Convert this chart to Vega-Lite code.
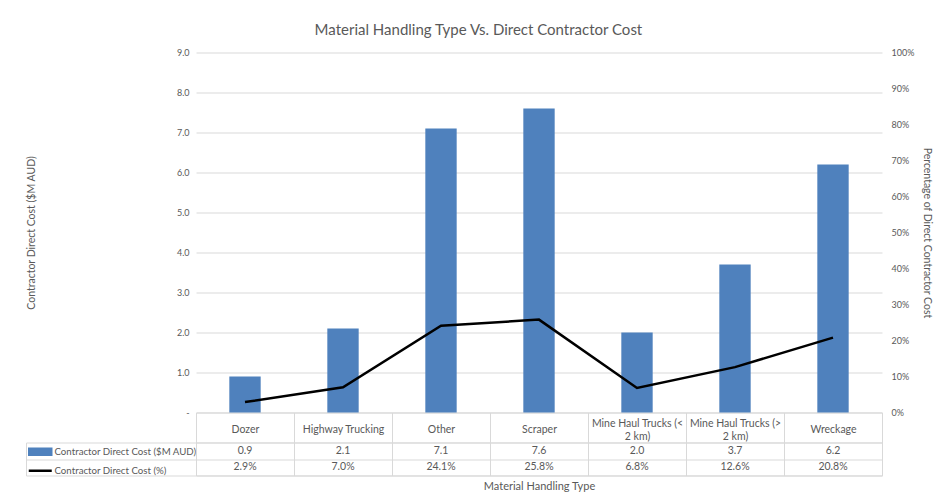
{
  "$schema": "https://vega.github.io/schema/vega-lite/v6.json",
  "background": "white",
  "padding": {"left": 25, "top": 22.5, "right": 5, "bottom": 5},
  "title": {
    "text": "Material Handling Type Vs. Direct Contractor Cost",
    "font": "Lato",
    "fontSize": 15,
    "fontWeight": "normal",
    "color": "#595959",
    "anchor": "middle",
    "offset": 11
  },
  "config": {
    "font": "Lato",
    "axis": {
      "labelFont": "Lato",
      "titleFont": "Lato",
      "labelColor": "#595959",
      "titleColor": "#595959",
      "titleFontWeight": "normal",
      "labelFontSize": 9,
      "titleFontSize": 10.5
    }
  },
  "datasets": {
    "costs": [
      {"type": "Dozer", "cost": 0.9, "pct": 0.029},
      {"type": "Highway Trucking", "cost": 2.1, "pct": 0.070},
      {"type": "Other", "cost": 7.1, "pct": 0.241},
      {"type": "Scraper", "cost": 7.6, "pct": 0.258},
      {"type": "Mine Haul Trucks (< 2 km)", "cost": 2.0, "pct": 0.068},
      {"type": "Mine Haul Trucks (> 2 km)", "cost": 3.7, "pct": 0.126},
      {"type": "Wreckage", "cost": 6.2, "pct": 0.208}
    ]
  },
  "bounds": "flush",
  "spacing": 30,
  "resolve": {"scale": {"color": "independent"}},
  "vconcat": [
    {
      "width": 686,
      "height": 360,
      "data": {"name": "costs"},
      "view": {"stroke": null},
      "encoding": {
        "x": {
          "field": "type",
          "type": "nominal",
          "sort": null,
          "scale": {"type": "band", "paddingInner": 0, "paddingOuter": 0},
          "axis": {
            "orient": "bottom",
            "title": null,
            "domain": true,
            "domainColor": "#d9d9d9",
            "ticks": true,
            "tickBand": "extent",
            "tickSize": 30,
            "tickColor": "#d9d9d9",
            "labelAngle": 0,
            "labelFontSize": 10.5,
            "labelBaseline": "middle",
            "labelPadding": {"condition": {"test": "length(datum.label) > 20", "value": -19.5}, "value": -13},
            "labelLineHeight": 13,
            "labelLimit": 0,
            "labelOverlap": false,
            "labelFlush": false,
            "labelExpr": "length(datum.label) > 20 ? [substring(datum.label, 0, 19), '2 km)'] : datum.label"
          }
        }
      },
      "layer": [
        {
          "mark": {"type": "bar", "width": {"band": 0.32}},
          "encoding": {
            "y": {
              "field": "cost",
              "type": "quantitative",
              "scale": {"domain": [0, 9]},
              "axis": {
                "orient": "left",
                "values": [0, 1, 2, 3, 4, 5, 6, 7, 8, 9],
                "labelExpr": "datum.value == 0 ? '-  ' : format(datum.value, '.1f')",
                "grid": true,
                "gridColor": "#d9d9d9",
                "domain": false,
                "ticks": false,
                "labelPadding": 7,
                "title": "Contractor Direct Cost ($M AUD)",
                "titlePadding": 140
              }
            },
            "color": {
              "datum": "Contractor Direct Cost ($M AUD)",
              "type": "nominal",
              "scale": {
                "domain": ["Contractor Direct Cost ($M AUD)", "Contractor Direct Cost (%)"],
                "range": ["#4f81bd", "#000000"]
              },
              "legend": {
                "orient": "none",
                "legendX": -162.25,
                "legendY": 392.75,
                "title": null,
                "direction": "vertical",
                "padding": 0,
                "rowPadding": 4,
                "labelOffset": 7.75,
                "labelFont": "Lato",
                "labelFontSize": 9.7,
                "labelColor": "#595959",
                "labelLimit": 0,
                "symbolSize": 100,
                "symbolStrokeWidth": 2.5,
                "encode": {
                  "symbols": {
                    "update": {
                      "shape": {"signal": "datum.value === 'Contractor Direct Cost (%)' ? 'M-2.3,0L2.3,0' : 'M-2.2,-0.6H2.2V0.6H-2.2Z'"},
                      "fill": {"signal": "datum.value === 'Contractor Direct Cost (%)' ? 'transparent' : '#4f81bd'"},
                      "stroke": {"signal": "datum.value === 'Contractor Direct Cost (%)' ? '#000000' : 'transparent'"},
                      "strokeWidth": {"value": 2.5},
                      "opacity": {"value": 1}
                    }
                  }
                }
              }
            }
          }
        },
        {
          "mark": {"type": "line", "strokeWidth": 2.5},
          "encoding": {
            "y": {
              "field": "pct",
              "type": "quantitative",
              "scale": {"domain": [0, 1]},
              "axis": {
                "orient": "right",
                "values": [0, 0.1, 0.2, 0.3, 0.4, 0.5, 0.6, 0.7, 0.8, 0.9, 1],
                "format": ".0%",
                "grid": false,
                "domain": false,
                "ticks": false,
                "labelPadding": 9,
                "title": "Percentage of Direct Contractor Cost",
                "titlePadding": 8
              }
            },
            "color": {"datum": "Contractor Direct Cost (%)", "type": "nominal"}
          }
        }
      ],
      "resolve": {"scale": {"y": "independent"}}
    },
    {
      "width": 686,
      "height": 33,
      "data": {"name": "costs"},
      "view": {"stroke": "#d9d9d9"},
      "encoding": {
        "x": {
          "field": "type",
          "type": "nominal",
          "sort": null,
          "scale": {"type": "band", "paddingInner": 0, "paddingOuter": 0},
          "axis": {
            "orient": "bottom",
            "labels": false,
            "ticks": false,
            "domain": false,
            "grid": true,
            "gridColor": "#d9d9d9",
            "tickBand": "extent",
            "title": "Material Handling Type",
            "titleFontSize": 11,
            "titlePadding": 5
          }
        }
      },
      "layer": [
        {
          "mark": {"type": "text", "fontSize": 10.5, "color": "#595959", "font": "Lato"},
          "encoding": {
            "y": {
              "datum": "Contractor Direct Cost ($M AUD)",
              "type": "nominal",
              "scale": {
                "type": "band",
                "domain": ["Contractor Direct Cost ($M AUD)", "Contractor Direct Cost (%)"],
                "paddingInner": 0,
                "paddingOuter": 0
              },
              "axis": {
                "orient": "left",
                "labels": false,
                "domain": false,
                "ticks": true,
                "tickBand": "extent",
                "tickSize": 170,
                "tickColor": "#d9d9d9",
                "grid": true,
                "gridColor": "#d9d9d9",
                "title": null
              }
            },
            "text": {"field": "cost", "type": "quantitative", "format": ".1f"}
          }
        },
        {
          "mark": {"type": "text", "fontSize": 10.5, "color": "#595959", "font": "Lato"},
          "encoding": {
            "y": {
              "datum": "Contractor Direct Cost (%)",
              "type": "nominal",
              "axis": {
                "orient": "left",
                "labels": false,
                "ticks": false,
                "domain": true,
                "domainColor": "#d9d9d9",
                "offset": 170,
                "grid": false,
                "title": null
              }
            },
            "text": {"field": "pct", "type": "quantitative", "format": ".1%"}
          }
        }
      ],
      "resolve": {"axis": {"y": "independent"}}
    }
  ]
}
